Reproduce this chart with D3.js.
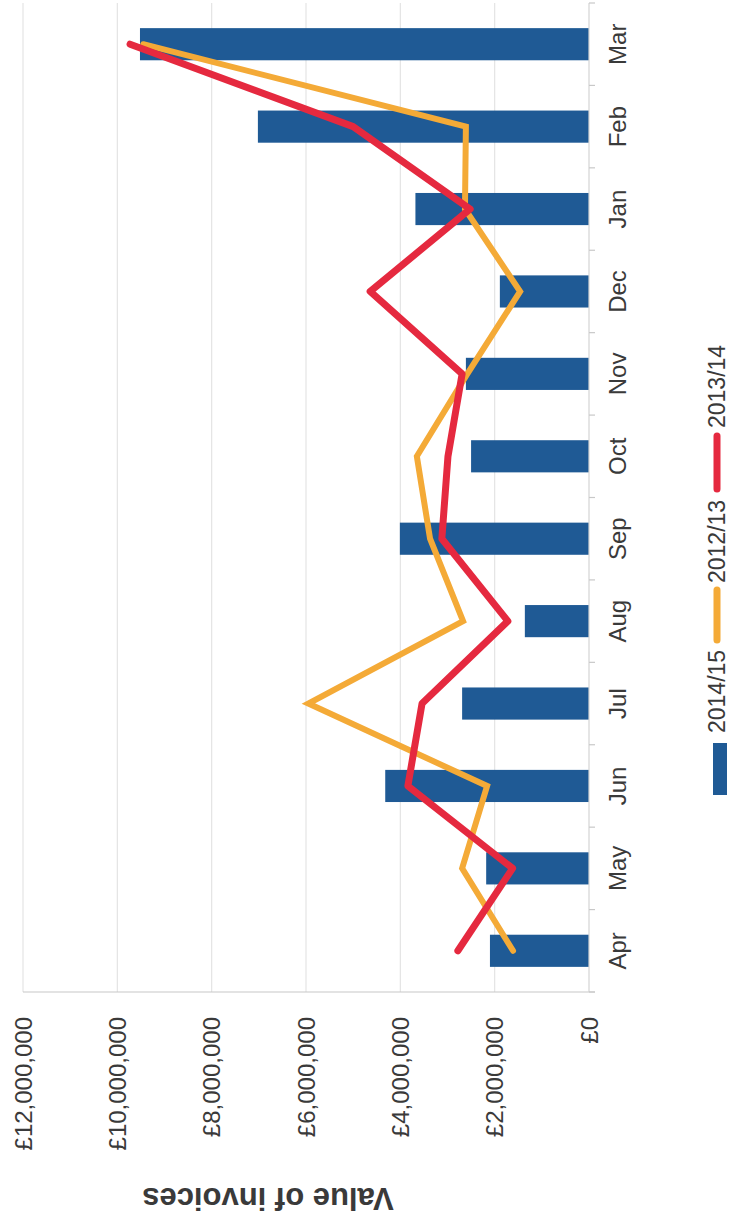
<!DOCTYPE html>
<html>
<head>
<meta charset="utf-8">
<script src="https://cdn.jsdelivr.net/npm/d3@7"></script>
<style>
  body { margin: 0; background: #fff; }
  text { font-family: "Liberation Sans", Arial, sans-serif; fill: #3a3a3a; }
</style>
</head>
<body>
<div id="chart-container"></div>
<script>
const months = ["Apr", "May", "Jun", "Jul", "Aug", "Sep", "Oct", "Nov", "Dec", "Jan", "Feb", "Mar"];
const invoices1415 = [2100000, 2180000, 4320000, 2690000, 1360000, 4010000, 2500000, 2610000, 1890000, 3680000, 7020000, 9520000];
const invoices1213 = [1610000, 2690000, 2160000, 5950000, 2670000, 3370000, 3650000, 2580000, 1460000, 2630000, 2610000, 9450000];
const invoices1314 = [2780000, 1620000, 3840000, 3540000, 1720000, 3120000, 2990000, 2690000, 4640000, 2520000, 5000000, 9730000];
const valueTicks = [0, 2000000, 4000000, 6000000, 8000000, 10000000, 12000000];
const seriesNames = ["2014/15", "2012/13", "2013/14"];

const svgWidth = 731;
const svgHeight = 1222;

// The chart is drawn in its normal (upright) orientation and then turned
// a quarter turn anticlockwise, as in the scanned page.
const plotWidth = 989;
const plotHeight = 566;

const blue = "#1f5a95";
const orange = "#f4aa37";
const red = "#e5293f";

const x = d3.scaleBand()
    .domain(months)
    .range([0, plotWidth])
    .paddingInner(0.61)
    .paddingOuter(0.305);

const y = d3.scaleLinear()
    .domain([0, 12000000])
    .range([plotHeight, 0]);

const svg = d3.select("#chart-container").append("svg")
    .attr("width", svgWidth)
    .attr("height", svgHeight);

svg.append("rect")
    .attr("width", svgWidth)
    .attr("height", svgHeight)
    .attr("fill", "#fff");

const chart = svg.append("g")
    .attr("transform", "translate(23, 992) rotate(-90)");

// gridlines
chart.append("g")
    .selectAll("line")
    .data(valueTicks.slice(1))
    .enter()
    .append("line")
    .attr("x1", 0)
    .attr("x2", plotWidth)
    .attr("y1", d => y(d))
    .attr("y2", d => y(d))
    .attr("stroke", "#e4e4e4")
    .attr("stroke-width", 1.2);

// value axis line
chart.append("line")
    .attr("x1", 0).attr("x2", 0)
    .attr("y1", 0).attr("y2", plotHeight + 6)
    .attr("stroke", "#c8c8c8")
    .attr("stroke-width", 1.2);

// value labels
chart.append("g")
    .selectAll("text")
    .data(valueTicks)
    .enter()
    .append("text")
    .attr("x", -25)
    .attr("y", d => y(d))
    .attr("dy", "0.36em")
    .attr("text-anchor", "end")
    .attr("font-size", 24)
    .text(d => "£" + d3.format(",")(d));

// bars
chart.append("g")
    .selectAll("rect")
    .data(months)
    .enter()
    .append("rect")
    .attr("x", d => x(d))
    .attr("width", x.bandwidth())
    .attr("y", (d, i) => y(invoices1415[i]))
    .attr("height", (d, i) => plotHeight - y(invoices1415[i]))
    .attr("fill", blue);

// category axis
const categoryAxis = chart.append("g")
    .attr("transform", `translate(0, ${plotHeight})`);

categoryAxis.append("line")
    .attr("x1", 0).attr("x2", plotWidth)
    .attr("stroke", "#d4d4d4")
    .attr("stroke-width", 1.2);

categoryAxis.selectAll(".tick")
    .data(d3.range(months.length + 1))
    .enter()
    .append("line")
    .attr("class", "tick")
    .attr("x1", d => d * x.step())
    .attr("x2", d => d * x.step())
    .attr("y1", 0)
    .attr("y2", 6)
    .attr("stroke", "#c8c8c8")
    .attr("stroke-width", 1.2);

categoryAxis.selectAll(".month")
    .data(months)
    .enter()
    .append("text")
    .attr("class", "month")
    .attr("x", d => x(d) + x.bandwidth() / 2)
    .attr("y", 37)
    .attr("text-anchor", "middle")
    .attr("font-size", 24)
    .text(d => d);

// lines
const line = d3.line()
    .x(d => x(d.month) + x.bandwidth() / 2)
    .y(d => y(d.value));

function series(values) {
    return months.map((m, i) => ({month: m, value: values[i]}));
}

chart.append("path")
    .datum(series(invoices1213))
    .attr("d", line)
    .attr("fill", "none")
    .attr("stroke", orange)
    .attr("stroke-width", 6)
    .attr("stroke-linejoin", "miter")
    .attr("stroke-linecap", "round");

chart.append("path")
    .datum(series(invoices1314))
    .attr("d", line)
    .attr("fill", "none")
    .attr("stroke", red)
    .attr("stroke-width", 7)
    .attr("stroke-linejoin", "round")
    .attr("stroke-linecap", "round");

// axis title
chart.append("text")
    .attr("transform", "translate(-196, 245) rotate(-90)")
    .attr("text-anchor", "middle")
    .attr("font-size", 31)
    .attr("font-weight", "bold")
    .text("Value of invoices");

// legend
const legend = chart.append("g")
    .attr("transform", "translate(0, 702)");

legend.append("rect")
    .attr("x", 197)
    .attr("y", -12)
    .attr("width", 52)
    .attr("height", 14)
    .attr("fill", blue);

legend.append("text")
    .attr("x", 259)
    .attr("font-size", 23)
    .text(seriesNames[0]);

legend.append("line")
    .attr("x1", 352).attr("x2", 402)
    .attr("y1", -8).attr("y2", -8)
    .attr("stroke", orange)
    .attr("stroke-width", 7)
    .attr("stroke-linecap", "round");

legend.append("text")
    .attr("x", 409)
    .attr("font-size", 23)
    .text(seriesNames[1]);

legend.append("line")
    .attr("x1", 503).attr("x2", 556)
    .attr("y1", -8).attr("y2", -8)
    .attr("stroke", red)
    .attr("stroke-width", 7)
    .attr("stroke-linecap", "round");

legend.append("text")
    .attr("x", 564)
    .attr("font-size", 23)
    .text(seriesNames[2]);
</script>
</body>
</html>
